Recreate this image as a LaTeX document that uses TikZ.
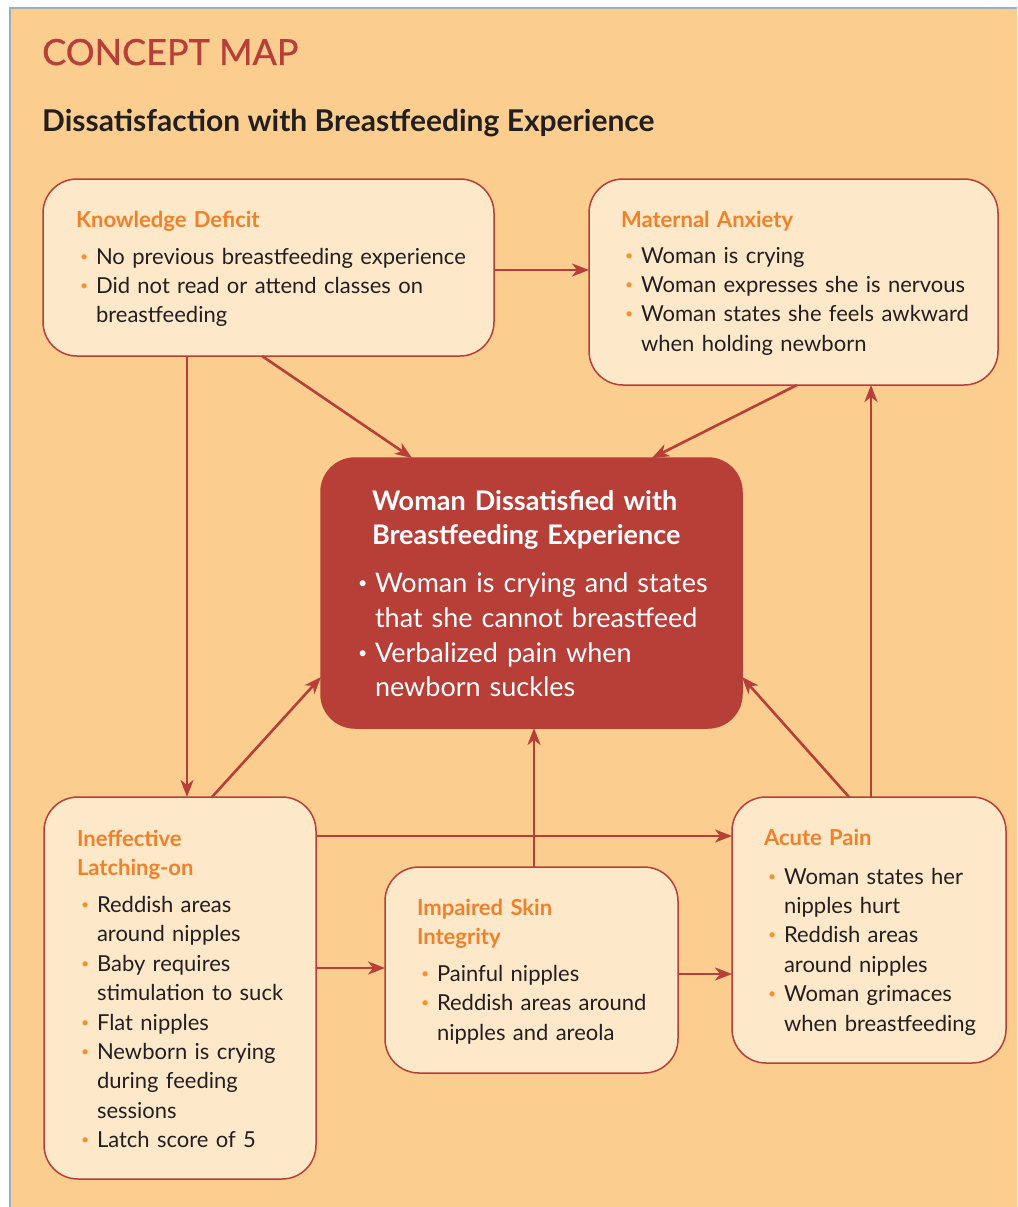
\documentclass[tikz,border=0pt]{standalone}
\usepackage{fontspec}
\setmainfont{Lato}
\newfontfamily\cmfont[FakeBold=0.7]{Lato}
\usetikzlibrary{arrows.meta,calc}
\definecolor{bgc}{HTML}{FBCE8F}
\definecolor{boxfill}{HTML}{FDE8C9}
\definecolor{cmred}{HTML}{B83E38}
\definecolor{ttlorange}{HTML}{F0812A}
\definecolor{bulorange}{HTML}{F5922F}
\definecolor{txt}{HTML}{231F20}
\definecolor{edgeblue}{HTML}{9AAFC5}
\newcommand\bi{\hspace*{4pt}\makebox[16pt][l]{\raisebox{3pt}{\textcolor{bulorange}{\fontsize{14}{14}\selectfont\textbullet}}}}
\newcommand\ci{\hspace*{20pt}}
\newcommand\cbi{\hspace*{-17pt}\makebox[17pt][l]{\raisebox{4pt}{\textcolor{white}{\fontsize{16}{16}\selectfont\textbullet}}}}
\newcommand\ttl[1]{{\bfseries\color{ttlorange}#1}}
\begin{document}
\begin{tikzpicture}[x=1pt,y=-1pt,
  box/.style={draw=cmred,line width=1.5pt,fill=boxfill,rounded corners=34pt,
    anchor=north west,inner sep=0pt,outer sep=0pt},
  bodytext/.style={anchor=base west,inner sep=0pt,outer sep=0pt,align=left,
    text width=420pt,text=txt,font=\fontsize{22}{29.4}\selectfont},
  arr/.style={draw=cmred,line width=2.6pt,-{Stealth[length=17pt,width=13pt,inset=5pt]}}]
\useasboundingbox (0,0) rectangle (1017,1207);
\fill[bgc] (10,8) rectangle (1017,1207);
\draw[edgeblue,line width=1.5pt] (10,1207) -- (10,8) -- (1017,8);

\node[anchor=base west,inner sep=0pt,text=cmred,font=\cmfont\fontsize{36}{36}\selectfont] (cm) at (42,65) {CONCEPT MAP};
\node[anchor=base west,inner sep=0pt,text=txt,font=\bfseries\fontsize{30}{30}\selectfont] (sub) at (42,131) {Dissatisfaction with Breastfeeding Experience};

% boxes
\node[box,minimum width=451pt,minimum height=177pt] (kd) at (43,179) {};
\node[box,minimum width=409pt,minimum height=206pt] (ma) at (589,179) {};
\node[box,fill=cmred,draw=cmred,minimum width=421pt,minimum height=270pt] (ce) at (321,458) {};
\node[box,minimum width=272pt,minimum height=382pt] (il) at (44,797) {};
\node[box,minimum width=293pt,minimum height=206pt] (is) at (385,867) {};
\node[box,minimum width=274pt,minimum height=266pt] (ap) at (732,797) {};

% texts
\node[bodytext] (kdt) at (76,227) {\ttl{Knowledge Deficit}\\[7.6pt]
\bi No previous breastfeeding experience\\
\bi Did not read or attend classes on\\
\ci breastfeeding};

\node[bodytext] (mat) at (621,227) {\ttl{Maternal Anxiety}\\[6.6pt]
\bi Woman is crying\\
\bi Woman expresses she is nervous\\
\bi Woman states she feels awkward\\
\ci when holding newborn};

\node[bodytext,text=white,text width=400pt,font=\fontsize{27}{34.7}\selectfont] (cet) at (372,510)
{{\bfseries Woman Dissatisfied with\\
Breastfeeding Experience}\\[13.3pt]
\hspace*{3pt}\cbi Woman is crying and states\\
\hspace*{3pt}that she cannot breastfeed\\
\hspace*{3pt}\cbi Verbalized pain when\\
\hspace*{3pt}newborn suckles};

\node[bodytext] (ilt) at (77,846) {\ttl{Ineffective}\\
\ttl{Latching-on}\\[7.6pt]
\bi Reddish areas\\
\ci around nipples\\
\bi Baby requires\\
\ci stimulation to suck\\
\bi Flat nipples\\
\bi Newborn is crying\\
\ci during feeding\\
\ci sessions\\
\bi Latch score of 5};

\node[bodytext] (ist) at (417,915) {\ttl{Impaired Skin}\\
\ttl{Integrity}\\[7.6pt]
\bi Painful nipples\\
\bi Reddish areas around\\
\ci nipples and areola};

\node[bodytext] (apt) at (764,845) {\ttl{Acute Pain}\\[9.6pt]
\bi Woman states her\\
\ci nipples hurt\\
\bi Reddish areas\\
\ci around nipples\\
\bi Woman grimaces\\
\ci when breastfeeding};

% connectors
\coordinate (kdma) at ($(kd.north east)+(0,91)$);
\draw[arr] (kdma) -- (kdma -| ma.west);
\coordinate (kdil) at ($(kd.south west)+(144,0)$);
\draw[arr] (kdil) -- (kdil |- il.north);
\draw[arr] ($(kd.south west)+(219,0)$) -- ($(ce.north west)+(91,0)$);
\draw[arr] ($(ma.south west)+(208,0)$) -- ($(ce.north west)+(331,0)$);
\draw[arr] ($(il.north west)+(168,0)$) -- ($(ce.north west)+(0,219)$);
\coordinate (ilap) at ($(il.north east)+(0,39)$);
\draw[arr] (ilap) -- (ilap -| ap.west);
\coordinate (ilis) at ($(il.north east)+(0,171)$);
\draw[arr] (ilis) -- (ilis -| is.west);
\coordinate (isap) at ($(is.north east)+(0,107)$);
\draw[arr] (isap) -- (isap -| ap.west);
\coordinate (isce) at ($(is.north west)+(149,0)$);
\draw[arr] (isce) -- (isce |- ce.south);
\draw[arr] ($(ap.north west)+(117,0)$) -- ($(ce.north east)+(0,219)$);
\coordinate (apma) at ($(ap.north west)+(139,0)$);
\draw[arr] (apma) -- (apma |- ma.south);
\end{tikzpicture}
\end{document}
